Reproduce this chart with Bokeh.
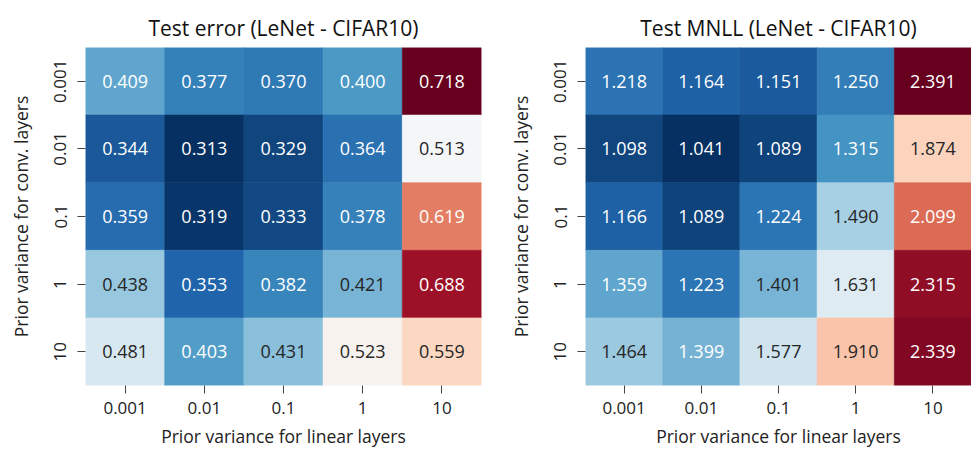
from bokeh.plotting import figure
from bokeh.layouts import row
from bokeh.models import ColumnDataSource, LinearColorMapper, FactorRange
from bokeh.core.properties import value
from bokeh.embed import file_html
from bokeh.resources import INLINE

# ---- data ----
linear_vars = ["0.001", "0.01", "0.1", "1", "10"]
conv_vars = ["0.001", "0.01", "0.1", "1", "10"]

test_error = [
    [0.409, 0.377, 0.370, 0.400, 0.718],
    [0.344, 0.313, 0.329, 0.364, 0.513],
    [0.359, 0.319, 0.333, 0.378, 0.619],
    [0.438, 0.353, 0.382, 0.421, 0.688],
    [0.481, 0.403, 0.431, 0.523, 0.559],
]
test_mnll = [
    [1.218, 1.164, 1.151, 1.250, 2.391],
    [1.098, 1.041, 1.089, 1.315, 1.874],
    [1.166, 1.089, 1.224, 1.490, 2.099],
    [1.359, 1.223, 1.401, 1.631, 2.315],
    [1.464, 1.399, 1.577, 1.910, 2.339],
]

titles = ["Test error (LeNet - CIFAR10)", "Test MNLL (LeNet - CIFAR10)"]
x_label = "Prior variance for linear layers"
y_label = "Prior variance for conv. layers"

# ---- RdBu_r colormap (256 steps) ----
anchors = ["#053061", "#2166ac", "#4393c3", "#92c5de", "#d1e5f0", "#f7f7f7",
           "#fddbc7", "#f4a582", "#d6604d", "#b2182b", "#67001f"]


def hex2rgb(h):
    return tuple(int(h[i:i + 2], 16) / 255 for i in (1, 3, 5))


anc = [hex2rgb(a) for a in anchors]
N = 256
palette = []
pal_rgb = []
for i in range(N):
    t = i / (N - 1) * (len(anc) - 1)
    k = min(int(t), len(anc) - 2)
    f = t - k
    c = tuple(anc[k][j] + (anc[k + 1][j] - anc[k][j]) * f for j in range(3))
    pal_rgb.append(c)
    palette.append("#%02x%02x%02x" % tuple(int(round(v * 255)) for v in c))


def text_color(v, lo, hi):
    x = (v - lo) / (hi - lo)
    idx = min(max(int(x * N), 0), N - 1)
    rgb = pal_rgb[idx]
    lin = [c / 12.92 if c <= 0.03928 else ((c + 0.055) / 1.055) ** 2.4 for c in rgb]
    lum = 0.2126 * lin[0] + 0.7152 * lin[1] + 0.0722 * lin[2]
    return "#262626" if lum > 0.408 else "#ffffff"


FONT = "Open Sans"
TXT = "#222222"


def make_heatmap(data, title, width, border_left, border_right):
    lo = min(min(r) for r in data)
    hi = max(max(r) for r in data)
    xs, ys, vals, labels, tcs = [], [], [], [], []
    for i, cv in enumerate(conv_vars):
        for j, lv in enumerate(linear_vars):
            v = data[i][j]
            xs.append(lv)
            ys.append(cv)
            vals.append(v)
            labels.append("%.3f" % v)
            tcs.append(text_color(v, lo, hi))
    src = ColumnDataSource(dict(x=xs, y=ys, v=vals, label=labels, tc=tcs))
    mapper = LinearColorMapper(palette=palette, low=lo, high=hi)

    p = figure(
        x_range=FactorRange(*linear_vars),
        y_range=FactorRange(*list(reversed(conv_vars))),
        width=width, height=450,
        output_backend="svg", toolbar_location=None,
        min_border_left=border_left, min_border_right=border_right,
        min_border_top=47, min_border_bottom=65,
        title=title,
    )
    p.rect(x="x", y="y", width=1, height=1, source=src,
           fill_color={"field": "v", "transform": mapper},
           line_color={"field": "v", "transform": mapper}, line_width=0.6)
    p.text(x="x", y="y", text="label", source=src,
           text_align="center", text_baseline="middle",
           text_color="tc", text_font_size="18px", text_font=value(FONT))

    p.title.align = "center"
    p.title.text_font = FONT
    p.title.text_font_size = "21px"
    p.title.text_font_style = "normal"
    p.title.text_color = "#111111"
    p.title.standoff = 12

    p.outline_line_color = None
    p.grid.visible = False
    p.background_fill_color = "white"
    p.border_fill_color = "white"

    for ax in (p.xaxis[0], p.yaxis[0]):
        ax.axis_line_color = None
        ax.major_tick_in = 0
        ax.major_tick_out = 8
        ax.major_tick_line_color = "#444444"
        ax.major_tick_line_width = 1
        ax.minor_tick_line_color = None
        ax.major_label_text_font = FONT
        ax.major_label_text_font_size = "17px"
        ax.major_label_text_color = TXT
        ax.axis_label_text_font = FONT
        ax.axis_label_text_font_size = "17.5px"
        ax.axis_label_text_font_style = "normal"
        ax.axis_label_text_color = TXT
    p.xaxis.axis_label = x_label
    p.yaxis.axis_label = y_label
    p.yaxis.major_label_orientation = "vertical"
    p.xaxis.major_label_standoff = 8
    p.yaxis.major_label_standoff = 11
    p.xaxis.axis_label_standoff = 7
    p.yaxis.axis_label_standoff = 19
    return p


p1 = make_heatmap(test_error, titles[0], 490, 85, 9)
p2 = make_heatmap(test_mnll, titles[1], 481, 95, 0)

layout = row(p1, p2)
open("out.html", "w").write(file_html(layout, INLINE))
